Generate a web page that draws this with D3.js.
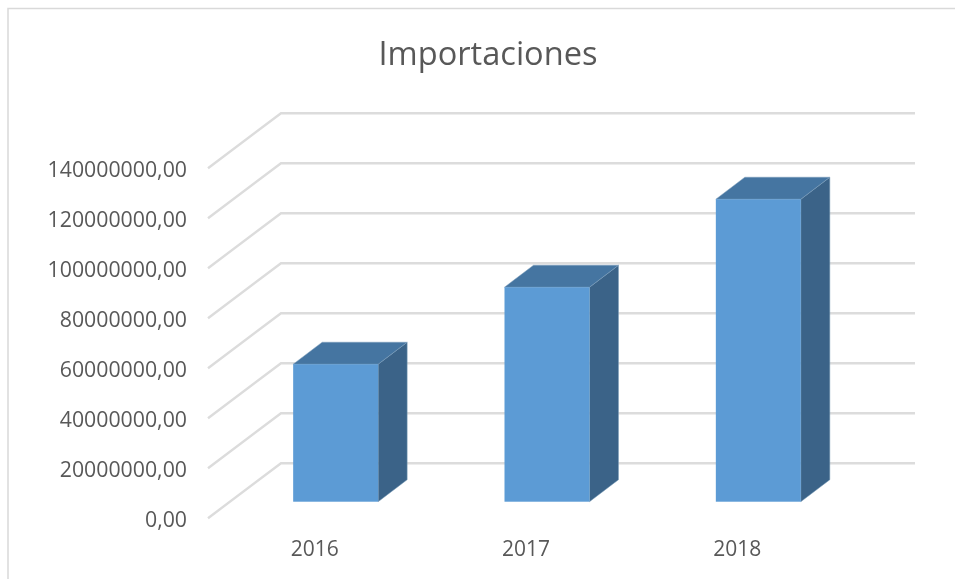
<!DOCTYPE html>
<html><head><meta charset="utf-8">
<script src="https://cdn.jsdelivr.net/npm/d3@7"></script>
<style>html,body{margin:0;padding:0;background:#fff;overflow:hidden}svg{display:block}
text{font-family:"Open Sans",sans-serif;fill:#595959}</style></head>
<body><svg id="c" width="955" height="579"></svg>
<script>
const categories = ["2016","2017","2018"];
const values = [55000000, 85800000, 121000000];
const yTicks = [0,20000000,40000000,60000000,80000000,100000000,120000000,140000000];
const titleText = "Importaciones";
const fmt = v => d3.format(".2f")(v).replace(".", ",");

const svg = d3.select("#c");
const defs = svg.append("defs");
defs.append("filter").attr("id","soft").append("feGaussianBlur").attr("stdDeviation",0.45);
const root = svg.append("g").attr("filter","url(#soft)");

const x = d3.scaleBand().domain(categories).range([208,842]).paddingInner(0).paddingOuter(0);
const y = d3.scaleLinear().domain([0,140000000]).range([518.2,168.2]);
const dx = 73, dy = -55;               // full floor depth
const barDx = 22, barDy = -16.5;       // front face offset from front edge
const depthX = 29, depthY = -22;       // bar depth
const barW = 85;

// frame
root.append("path").attr("d","M8,579V8.5H955").attr("fill","none").attr("stroke","#d9d9d9").attr("stroke-width",1.5);

// gridlines
root.append("g").selectAll("path").data(yTicks).join("path")
  .attr("d",d=>`M${x.range()[0]},${y(d)}L${x.range()[0]+dx},${y(d)+dy}H${x.range()[1]+dx}`)
  .attr("fill","none").attr("stroke","#dcdcdc").attr("stroke-width",2.4);

// y labels
root.append("g").selectAll("text").data(yTicks).join("text")
  .attr("x",187).attr("y",d=>y(d)+8.3).attr("text-anchor","end")
  .style("font-size","21.3px").text(fmt);

// x labels
root.append("g").selectAll("text").data(categories).join("text")
  .attr("x",d=>x(d)+x.bandwidth()/2+1).attr("y",556).attr("text-anchor","middle")
  .style("font-size","21px").text(d=>d);

// bars
const bars = root.append("g").selectAll("g").data(categories.map((c,i)=>({c,v:values[i]}))).join("g");
const L = d=>x(d.c)+x.bandwidth()/2+barDx-barW/2, R = d=>L(d)+barW;
const T = d=>y(d.v)+barDy, B = d=>y(0)+barDy;
bars.append("path").attr("fill","#3a6488").attr("stroke","#7f9fbb").attr("stroke-width",0.5)
  .attr("d",d=>`M${R(d)},${T(d)}L${R(d)+depthX},${T(d)+depthY}V${B(d)+depthY}L${R(d)},${B(d)}Z`);
bars.append("path").attr("fill","#4575a1").attr("stroke","#7f9fbb").attr("stroke-width",0.5)
  .attr("d",d=>`M${L(d)},${T(d)}L${L(d)+depthX},${T(d)+depthY}H${R(d)+depthX}L${R(d)},${T(d)}Z`);
bars.append("rect").attr("fill","#5b9bd5").attr("x",L).attr("y",T).attr("width",barW).attr("height",d=>B(d)-T(d));

// title
root.append("text").attr("x",488).attr("y",65).attr("text-anchor","middle")
  .style("font-size","32.6px").text(titleText);
</script></body></html>
